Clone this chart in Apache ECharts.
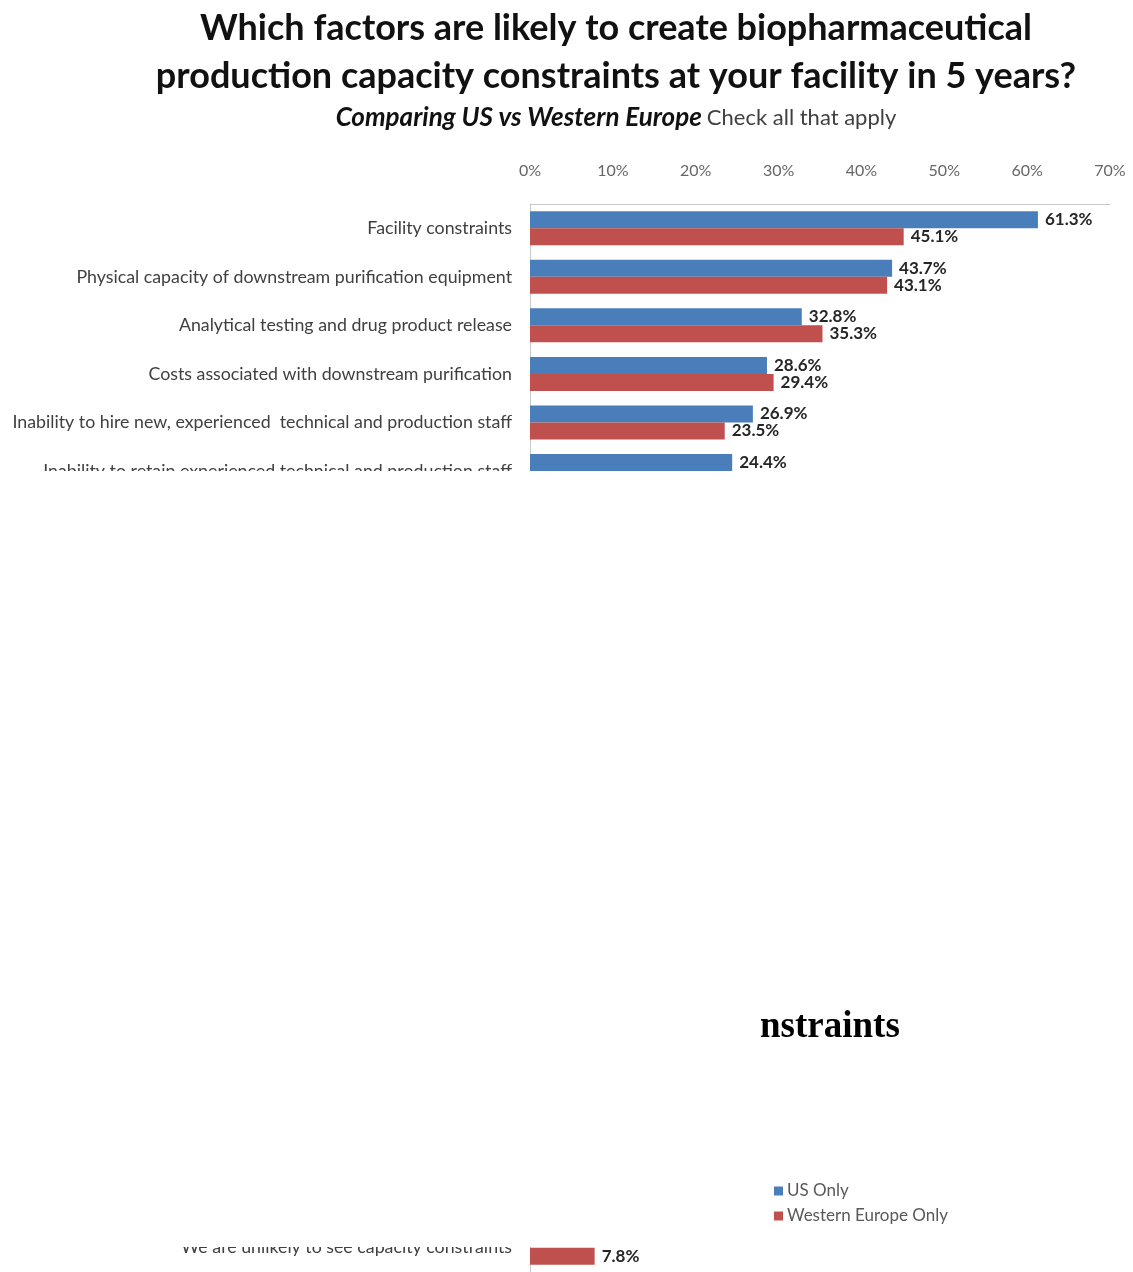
<!DOCTYPE html>
<html>
<head>
<meta charset="utf-8">
<script src="https://cdn.jsdelivr.net/npm/echarts@6/dist/echarts.min.js"></script>
<style>
html,body{margin:0;padding:0;background:#fff;}
#chart{width:1133px;height:1272px;}
</style>
</head>
<body>
<div id="chart"></div>
<script>
// Categories (rows 6..20 are hidden in the reference image)
var categories = [
  "Facility constraints",
  "Physical capacity of downstream purification equipment",
  "Analytical testing and drug product release",
  "Costs associated with downstream purification",
  "Inability to hire new, experienced  technical and production staff",
  "Inability to retain experienced technical and production staff",
  "", "", "", "", "", "", "", "", "", "", "", "", "", "", "",
  "We are unlikely to see capacity constraints"
];
var usOnly = [61.3, 43.7, 32.8, 28.6, 26.9, 24.4,
  null, null, null, null, null, null, null, null, null, null, null, null, null, null, null,
  null];
var westernEurope = [45.1, 43.1, 35.3, 29.4, 23.5, null,
  null, null, null, null, null, null, null, null, null, null, null, null, null, null, null,
  7.8];
var xTicks = { min: 0, max: 70, interval: 10 };
var seriesNames = ["US Only", "Western Europe Only"];

var FONT = 'Lato, "Open Sans", sans-serif';
var chart = echarts.init(document.getElementById('chart'), null, {renderer: 'canvas'});

var labelOpt = {
  show: true,
  position: 'right',
  distance: 7,
  fontFamily: FONT,
  fontWeight: 'bold',
  fontSize: 17,
  color: '#262626',
  formatter: function (p) { return p.value == null ? '' : p.value.toFixed(1) + '%'; }
};

chart.setOption({
  animation: false,
  backgroundColor: '#ffffff',
  title: [{
    text: 'Which factors are likely to create biopharmaceutical\nproduction capacity constraints at your facility in 5 years?',
    left: 611,
    top: -1,
    textAlign: 'center',
    textStyle: { fontFamily: FONT, fontWeight: 'bold', fontSize: 36, lineHeight: 48, color: '#111111' }
  }, {
    text: '{a|Comparing US vs Western Europe} {b|Check all that apply}',
    left: 611,
    top: 98,
    textAlign: 'center',
    textStyle: {
      rich: {
        a: { fontFamily: FONT, fontWeight: 'bold', fontStyle: 'italic', fontSize: 26, color: '#111111', lineHeight: 30 },
        b: { fontFamily: FONT, fontWeight: 'normal', fontSize: 22, color: '#404040', lineHeight: 30 }
      }
    }
  }],
  legend: {
    orient: 'vertical',
    left: 769,
    top: 1177,
    z: 20,
    itemWidth: 9,
    itemHeight: 9,
    itemGap: 7,
    icon: 'rect',
    textStyle: { fontFamily: FONT, fontSize: 17, color: '#595959', lineHeight: 18, padding: [0, 0, 0, -1] },
    data: seriesNames
  },
  grid: { left: 530, right: 23, top: 204, height: 1071, containLabel: false },
  xAxis: {
    type: 'value',
    position: 'top',
    min: xTicks.min,
    max: xTicks.max,
    interval: xTicks.interval,
    axisLine: { show: true, lineStyle: { color: '#c8c8c8', width: 1 } },
    axisTick: { show: false },
    splitLine: { show: false },
    axisLabel: { margin: 25, fontFamily: FONT, fontSize: 16, color: '#666666', formatter: '{value}%' }
  },
  yAxis: {
    type: 'category',
    inverse: true,
    data: categories,
    axisLine: { show: true, lineStyle: { color: '#c8c8c8', width: 1 } },
    axisTick: { show: false },
    axisLabel: { margin: 18, fontFamily: FONT, fontSize: 17.8, color: '#404040' }
  },
  series: [{
    name: seriesNames[0],
    type: 'bar',
    data: usOnly,
    barGap: '0%',
    barCategoryGap: '30%',
    itemStyle: { color: '#4A7EBB' },
    label: labelOpt
  }, {
    name: seriesNames[1],
    type: 'bar',
    data: westernEurope,
    barGap: '0%',
    barCategoryGap: '30%',
    itemStyle: { color: '#C0504D' },
    label: labelOpt
  }],
  graphic: [{
    type: 'rect',
    z: 10,
    silent: true,
    shape: { x: 0, y: 471, width: 1133, height: 776 },
    style: { fill: '#ffffff' }
  }, {
    type: 'text',
    z: 11,
    silent: true,
    x: 760,
    y: 1027,
    style: {
      text: 'nstraints',
      font: 'bold 37px "Liberation Serif", "Times New Roman", serif',
      fill: '#000000',
      verticalAlign: 'middle'
    }
  }]
});
</script>
</body>
</html>
